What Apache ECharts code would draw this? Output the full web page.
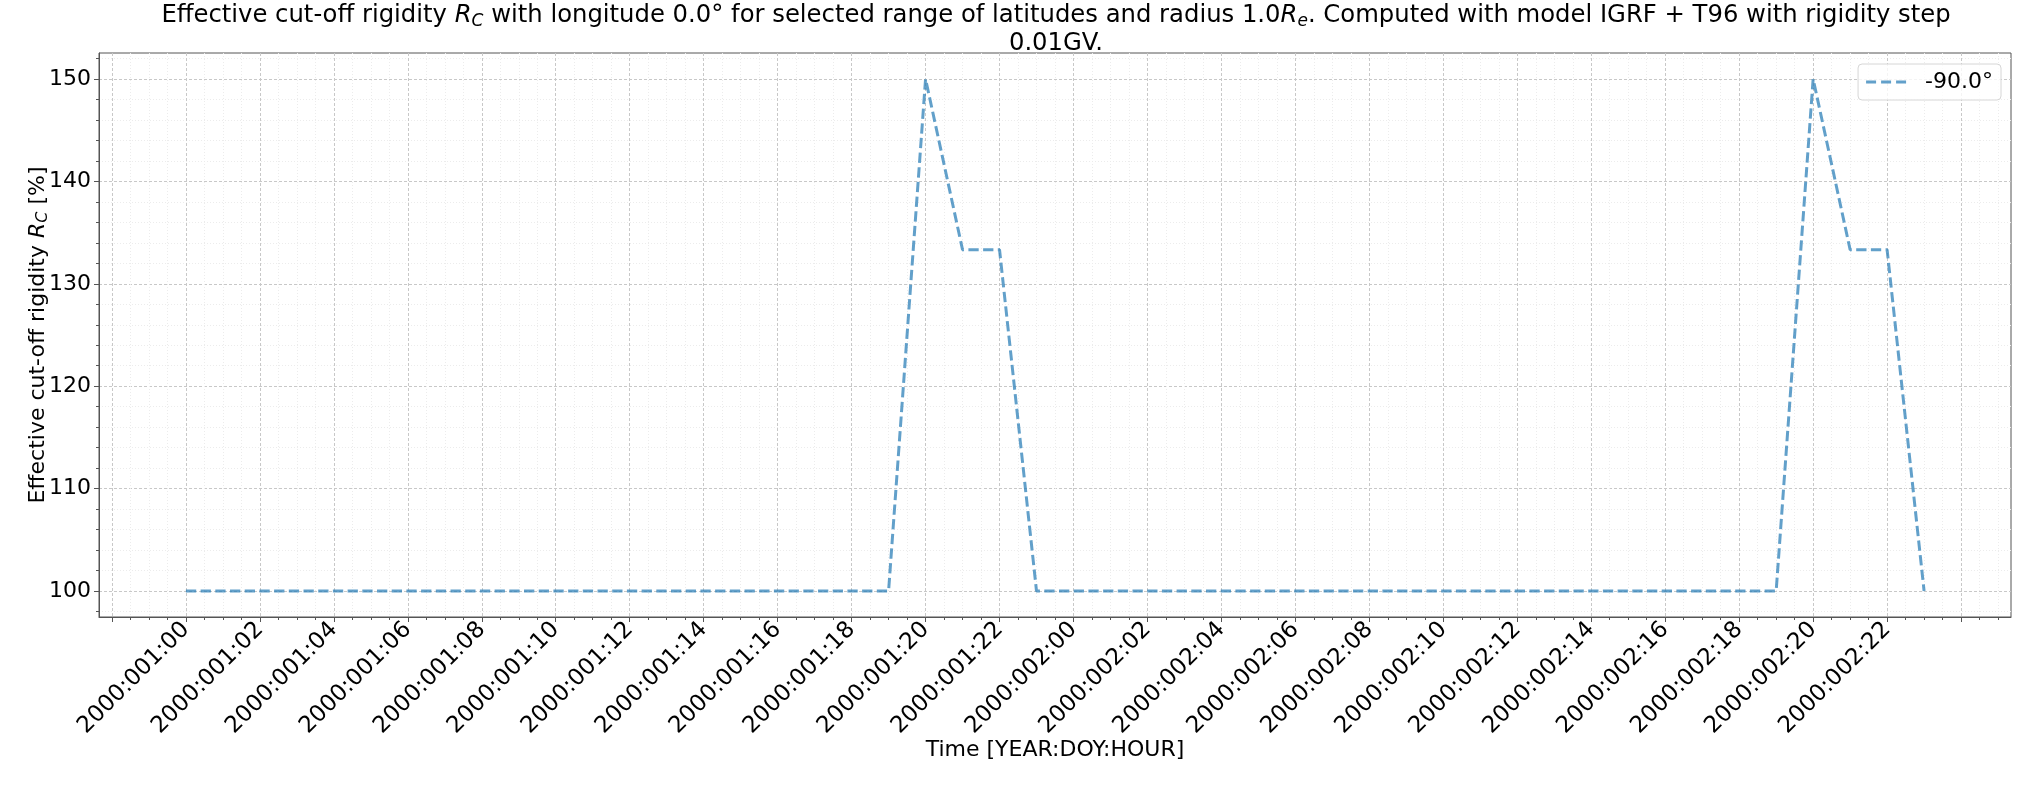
<!DOCTYPE html>
<html lang="en">
<head>
    <meta charset="UTF-8">
    <script src="https://cdn.jsdelivr.net/npm/echarts@6/dist/echarts.min.js"></script>
    <style>
        html, body {margin:0;padding:0;background:#fff}
        #chart {width:2035px;height:785px}
    </style>
    <title>Effective cut-off rigidity</title>
</head>
<body>
<div id="chart"></div>
<script type="text/javascript">
    // hourly time stamps, YEAR:DOY:HOUR
    var times = [
        '2000:001:00','2000:001:01','2000:001:02','2000:001:03','2000:001:04','2000:001:05',
        '2000:001:06','2000:001:07','2000:001:08','2000:001:09','2000:001:10','2000:001:11',
        '2000:001:12','2000:001:13','2000:001:14','2000:001:15','2000:001:16','2000:001:17',
        '2000:001:18','2000:001:19','2000:001:20','2000:001:21','2000:001:22','2000:001:23',
        '2000:002:00','2000:002:01','2000:002:02','2000:002:03','2000:002:04','2000:002:05',
        '2000:002:06','2000:002:07','2000:002:08','2000:002:09','2000:002:10','2000:002:11',
        '2000:002:12','2000:002:13','2000:002:14','2000:002:15','2000:002:16','2000:002:17',
        '2000:002:18','2000:002:19','2000:002:20','2000:002:21','2000:002:22','2000:002:23'
    ];
    // latitude -90.0 deg
    var rc90 = [
        100,100,100,100,100,100,100,100,100,100,100,100,
        100,100,100,100,100,100,100,100,150,133.33,133.33,100,
        100,100,100,100,100,100,100,100,100,100,100,100,
        100,100,100,100,100,100,100,100,150,133.33,133.33,100
    ];
    var seriesName = '-90.0°';
    var yTicks = [100, 110, 120, 130, 140, 150];

    // tick positions (x in hours from the first sample)
    var xMajor = [], xMinor = [], xLabelPos = [], yMinor = [];
    for (var h = -2; h <= 48; h += 2) xMajor.push(h);
    for (var h = -2; h <= 49; h += 0.5) if (h % 2 !== 0) xMinor.push(h);
    for (var h = 0; h < times.length; h += 2) xLabelPos.push(h);
    for (var v = 98; v <= 152; v += 2) if (v % 10 !== 0) yMinor.push(v);

    var xMin = -2.35, xMax = 49.35, yMin = 97.46, yMax = 152.54;
    var spine = '#555';
    var font = 'DejaVu Sans';
    var lineColor = 'rgba(31,119,180,0.7)';

    var chart = echarts.init(document.getElementById('chart'));
    var option = {
        backgroundColor: '#fff',
        animation: false,
        textStyle: {fontFamily: font},
        title: {
            text: 'Effective cut-off rigidity {i|R}{s|C} with longitude 0.0° for selected range of latitudes and radius 1.0{i|R}{s|e}. Computed with model IGRF + T96 with rigidity step\n0.01GV.',
            left: 1051,
            top: -3,
            textAlign: 'center',
            textStyle: {
                fontFamily: font, fontSize: 24.3, fontWeight: 'normal', color: '#000', lineHeight: 28,
                rich: {
                    i: {fontFamily: font, fontSize: 24.3, fontStyle: 'italic', color: '#000', lineHeight: 28},
                    s: {fontFamily: font, fontSize: 17, fontStyle: 'italic', color: '#000', lineHeight: 17, verticalAlign: 'bottom'}
                }
            }
        },
        grid: {left: 99, right: 24, top: 53, bottom: 168, show: true, borderColor: spine, borderWidth: 1, containLabel: false},
        legend: {
            right: 34, top: 64,
            padding: [6, 8, 6, 8],
            itemWidth: 40, itemHeight: 3,
            icon: 'path://M0,0h10v3h-10zM15,0h10v3h-10zM30,0h10v3h-10z',
            backgroundColor: 'rgba(255,255,255,0.8)',
            borderColor: '#d6d6d6', borderWidth: 1, borderRadius: 4,
            itemStyle: {color: lineColor},
            textStyle: {fontFamily: font, fontSize: 22, color: '#000', padding: [0, 0, 0, 14], lineHeight: 24},
            data: [seriesName]
        },
        xAxis: [{
            type: 'value', min: xMin, max: xMax, position: 'bottom',
            name: 'Time [YEAR:DOY:HOUR]', nameLocation: 'middle', nameGap: 122,
            nameMoveOverlap: false,
            nameTextStyle: {fontFamily: font, fontSize: 22, color: '#000'},
            axisLine: {show: true, onZero: false, lineStyle: {color: spine, width: 1}},
            axisTick: {show: true, length: 5, lineStyle: {color: spine}, customValues: xMajor},
            axisLabel: {
                customValues: xLabelPos, rotate: 45, margin: 9,
                fontFamily: font, fontSize: 23, color: '#000',
                formatter: function (v) { return times[Math.round(v)] || ''; }
            },
            splitLine: {show: true, lineStyle: {color: '#c8c8c8', width: 1, type: [3, 2]}}
        }, {
            type: 'value', min: xMin, max: xMax, position: 'bottom',
            axisLine: {show: false, onZero: false},
            axisTick: {show: true, length: 3, lineStyle: {color: spine}, customValues: xMinor},
            axisLabel: {show: false, customValues: xMinor},
            splitLine: {show: true, lineStyle: {color: '#ececec', width: 1, type: [1, 2]}}
        }],
        yAxis: [{
            type: 'value', min: yMin, max: yMax, position: 'left',
            name: 'Effective cut-off rigidity {i|R}{s|C} [%]', nameLocation: 'middle', nameGap: 48, nameRotate: 90,
            nameMoveOverlap: false,
            nameTextStyle: {
                fontFamily: font, fontSize: 22, color: '#000', lineHeight: 26,
                rich: {
                    i: {fontFamily: font, fontSize: 22, fontStyle: 'italic', color: '#000', lineHeight: 26},
                    s: {fontFamily: font, fontSize: 16, fontStyle: 'italic', color: '#000', lineHeight: 16, verticalAlign: 'bottom'}
                }
            },
            axisLine: {show: true, onZero: false, lineStyle: {color: spine, width: 1}},
            axisTick: {show: true, length: 5, lineStyle: {color: spine}, customValues: yTicks},
            axisLabel: {customValues: yTicks, margin: 8, fontFamily: font, fontSize: 22, color: '#000'},
            splitLine: {show: true, lineStyle: {color: '#c8c8c8', width: 1, type: [3, 2]}}
        }, {
            type: 'value', min: yMin, max: yMax, position: 'left',
            axisLine: {show: false, onZero: false},
            axisTick: {show: true, length: 3, lineStyle: {color: spine}, customValues: yMinor},
            axisLabel: {show: false, customValues: yMinor},
            splitLine: {show: true, lineStyle: {color: '#ececec', width: 1, type: [1, 2]}}
        }],
        series: [{
            name: seriesName,
            type: 'line',
            xAxisIndex: 0, yAxisIndex: 0,
            symbol: 'none',
            data: rc90.map(function (v, i) { return [i, v]; }),
            lineStyle: {color: lineColor, width: 3, type: [10.3, 4.4]},
            itemStyle: {color: lineColor}
        }]
    };
    chart.setOption(option);
</script>
</body>
</html>
